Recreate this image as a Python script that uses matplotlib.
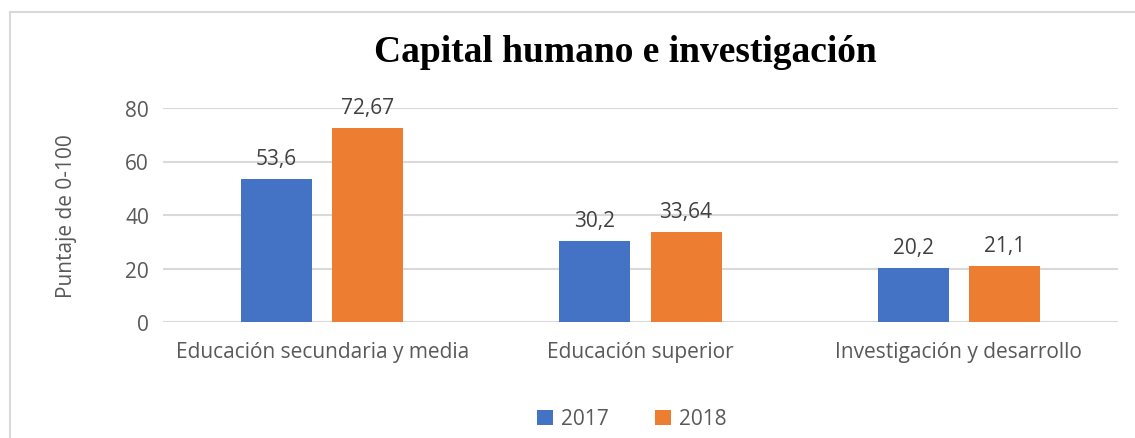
import matplotlib

matplotlib.use("Agg")
import matplotlib.pyplot as plt
import numpy as np
from matplotlib.patches import Rectangle

categories = ["Educación secundaria y media", "Educación superior", "Investigación y desarrollo"]
values_2017 = [53.6, 30.2, 20.2]
values_2018 = [72.67, 33.64, 21.1]
labels_2017 = ["53,6", "30,2", "20,2"]
labels_2018 = ["72,67", "33,64", "21,1"]
series_names = ["2017", "2018"]

BLUE = "#4472C4"
ORANGE = "#ED7D31"
TEXT = "#595959"
GRID = "#D9D9D9"
SANS = ["Open Sans", "DejaVu Sans"]
FS = 15

fig = plt.figure(figsize=(11.35, 4.39), dpi=100)
W, H = 1135, 439
# plot area in pixels: x 163..1118, y 109 (80) .. 323 (0)
ax = fig.add_axes([163 / W, 1 - 323 / H, (1118 - 163) / W, (323 - 109) / H])

# outer chart border
fig.patches.append(Rectangle((10 / W, -0.02), 1.1, 1 - 13 / H + 0.02,
                             transform=fig.transFigure, fill=False,
                             edgecolor=GRID, linewidth=1.5))

x = np.arange(len(categories))
width = 0.223
offset = 0.143
b1 = ax.bar(x - offset, values_2017, width, color=BLUE, label=series_names[0], zorder=3)
b2 = ax.bar(x + offset, values_2018, width, color=ORANGE, label=series_names[1], zorder=3)

for bars, labels in ((b1, labels_2017), (b2, labels_2018)):
    for bar, lab in zip(bars, labels):
        ax.annotate(lab, (bar.get_x() + bar.get_width() / 2, bar.get_height()),
                    xytext=(0, 7), textcoords="offset points", ha="center", va="bottom",
                    fontsize=FS, color="#404040", family=SANS)

ax.set_xlim(-0.5, len(categories) - 0.5)
ax.set_ylim(0, 80)
ax.set_yticks([0, 20, 40, 60, 80])
ax.set_xticks(x)
ax.set_xticklabels(categories)
ax.grid(axis="y", color=GRID, linewidth=1.5, zorder=0)
ax.set_axisbelow(True)
for s in ax.spines.values():
    s.set_visible(False)
ax.tick_params(length=0, labelsize=FS, colors=TEXT, pad=10)
ax.tick_params(axis="x", pad=14)
for t in ax.get_xticklabels() + ax.get_yticklabels():
    t.set_family(SANS)

ax.set_ylabel("Puntaje de 0-100", fontsize=FS, color=TEXT, family=SANS, labelpad=35)

fig.text(625 / W, 1 - 52 / H, "Capital humano e investigación", ha="center", va="center",
         fontsize=27, fontweight="bold", family="Liberation Serif", color="black")

fig.legend(handles=[b1, b2], labels=series_names, loc="center", bbox_to_anchor=(632 / W, 1 - 420 / H),
           ncol=2, frameon=False, prop={"family": SANS, "size": FS}, labelcolor=TEXT,
           handlelength=0.75, handleheight=0.75, columnspacing=2.2, handletextpad=0.4)

fig.savefig("out.png", dpi=100)
